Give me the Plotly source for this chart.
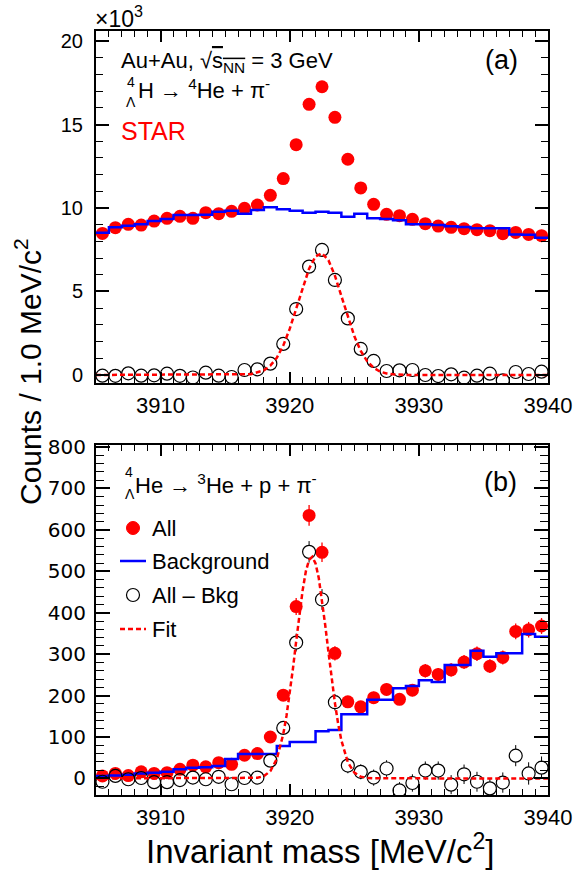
import plotly.graph_objects as go

# ---------------- data ----------------
bin_edges = [3905, 3906, 3907, 3908, 3909, 3910, 3911, 3912, 3913, 3914, 3915, 3916,
             3917, 3918, 3919, 3920, 3921, 3922, 3923, 3924, 3925, 3926, 3927, 3928,
             3929, 3930, 3931, 3932, 3933, 3934, 3935, 3936, 3937, 3938, 3939, 3940]
bin_centers = [3905.5, 3906.5, 3907.5, 3908.5, 3909.5, 3910.5, 3911.5, 3912.5, 3913.5,
               3914.5, 3915.5, 3916.5, 3917.5, 3918.5, 3919.5, 3920.5, 3921.5, 3922.5,
               3923.5, 3924.5, 3925.5, 3926.5, 3927.5, 3928.5, 3929.5, 3930.5, 3931.5,
               3932.5, 3933.5, 3934.5, 3935.5, 3936.5, 3937.5, 3938.5, 3939.5]

# panel (a): counts in units of 10^3
all_a = [8.48, 8.82, 9.02, 8.98, 9.22, 9.38, 9.50, 9.38, 9.72, 9.66, 9.80, 9.98, 10.18,
         10.76, 11.76, 13.79, 16.21, 17.26, 15.43, 12.92, 11.20, 10.22, 9.62, 9.54, 9.32,
         9.06, 8.92, 8.84, 8.76, 8.70, 8.64, 8.46, 8.54, 8.42, 8.34]
bkg_a = [8.52, 8.84, 8.94, 9.02, 9.22, 9.34, 9.58, 9.58, 9.60, 9.78, 9.84, 9.66, 9.88,
         10.04, 9.92, 9.84, 9.72, 9.78, 9.72, 9.48, 9.66, 9.38, 9.34, 9.26, 9.02, 9.02,
         8.98, 8.90, 8.86, 8.78, 8.78, 8.78, 8.42, 8.40, 8.22]
sub_a = [-0.04, -0.05, 0.10, -0.04, -0.02, 0.08, -0.05, -0.15, 0.14, -0.04, -0.12, 0.30,
         0.34, 0.68, 1.86, 3.95, 6.49, 7.49, 5.69, 3.39, 1.56, 0.84, 0.24, 0.28, 0.30,
         0.00, -0.06, 0.04, -0.16, -0.04, 0.08, -0.32, 0.18, 0.06, 0.20]
fit_a_x = [3905, 3917, 3918, 3918.5, 3919, 3919.5, 3920, 3920.5, 3921, 3921.5, 3922,
           3922.5, 3923, 3923.5, 3924, 3924.5, 3925, 3925.5, 3926, 3926.5, 3927, 3927.5,
           3928, 3929, 3940]
fit_a_y = [0.0, 0.05, 0.28, 0.56, 1.03, 1.76, 2.76, 3.97, 5.24, 6.37, 7.10, 7.29, 6.87,
           5.95, 4.73, 3.47, 2.33, 1.44, 0.82, 0.43, 0.20, 0.09, 0.04, 0.0, 0.0]

# panel (b): counts
all_b = [6, 12, 7, 16, 12, 14, 22, 32, 28, 38, 34, 56, 60, 100, 201, 415, 635, 546, 302,
         185, 173, 195, 215, 191, 213, 260, 251, 262, 281, 301, 271, 292, 355, 359, 368]
err_all_b = [2.4, 3.5, 2.6, 4.0, 3.5, 3.7, 4.7, 5.7, 5.3, 6.2, 5.8, 7.5, 7.7, 10.0, 14.2,
             20.4, 25.2, 23.4, 17.4, 13.6, 13.2, 14.0, 14.7, 13.8, 14.6, 16.1, 15.8, 16.2,
             16.8, 17.3, 16.5, 17.1, 18.8, 18.9, 19.2]
bkg_b = [6, 7, 9, 12, 14, 16, 22, 26, 27, 30, 47, 59, 59, 59, 78, 88, 88, 114, 117, 155,
         155, 190, 190, 218, 223, 237, 233, 274, 274, 308, 294, 302, 302, 349, 342]
sub_b = [-8, 6, -2, 1, -9, -9, -4, 2, -2, 4, -14, 1, 2, 43, 122, 328, 547, 432, 184, 31,
         16, 2, 24, -29, -11, 19, 19, -15, 10, -8, -24, -10, 55, 12, 26]
err_sub_b = [4.0, 4.5, 4.0, 5.0, 5.0, 5.5, 6.5, 7.5, 7.5, 8.5, 9.0, 10.5, 11.0, 12.5, 15.5,
             21.5, 26.0, 25.0, 20.0, 18.5, 18.0, 19.5, 20.0, 20.0, 21.0, 22.0, 22.0, 23.0,
             23.5, 24.0, 24.0, 24.5, 25.5, 27.0, 27.0]
fit_b_x = [3905, 3917, 3917.5, 3918, 3918.5, 3919, 3919.5, 3919.75, 3920, 3920.25, 3920.5,
           3920.75, 3921, 3921.25, 3921.5, 3921.75, 3922, 3922.25, 3922.5, 3922.75, 3923,
           3923.25, 3923.5, 3923.75, 3924, 3924.5, 3925, 3925.5, 3926, 3926.5, 3940]
fit_b_y = [0, 0.3, 1.5, 5.6, 17.6, 47, 107, 151, 204, 265, 331, 396, 454, 500, 528, 535,
           519, 484, 432, 370, 305, 240, 182, 132, 92, 39, 14, 4.3, 1.1, 0.2, 0]

x_ticks = [3910, 3920, 3930, 3940]
y_ticks_a = [0, 5, 10, 15, 20]
y_ticks_b = [0, 100, 200, 300, 400, 500, 600, 700, 800]

# ---------------- style ----------------
RED = "#ff0000"
BLUE = "#0000ff"
FONT = "Liberation Sans, Arial, sans-serif"
W, H = 582, 872
L, R, T, B = 96, 34, 31, 77
PW = W - L - R
PH = H - T - B
MSIZE = 13
Y_RANGE_B = [-40, 805]
BOT_H = 350


def px(x):
    return (x - L) / PW


def py(y):
    return (H - B - y) / PH


# open-marker error bars are drawn only outside the hollow circle (as ROOT does)
r_b = (MSIZE / 2) * (Y_RANGE_B[1] - Y_RANGE_B[0]) / BOT_H
seg_x, seg_y = [], []
for xc, yc, e in zip(bin_centers, sub_b, err_sub_b):
    if e > r_b:
        seg_x += [xc, xc, None, xc, xc, None]
        seg_y += [yc + r_b, yc + e, None, yc - r_b, yc - e, None]

fig = go.Figure()

# panel (a) traces
fig.add_trace(go.Scatter(x=bin_centers, y=all_a, mode="markers", xaxis="x2", yaxis="y2",
                         marker=dict(color=RED, size=MSIZE, symbol="circle"),
                         showlegend=False))
fig.add_trace(go.Scatter(x=bin_edges, y=bkg_a + [bkg_a[-1]], mode="lines", xaxis="x2",
                         yaxis="y2", line=dict(color=BLUE, width=2.5, shape="hv"),
                         showlegend=False))
fig.add_trace(go.Scatter(x=bin_centers, y=sub_a, mode="markers", xaxis="x2", yaxis="y2",
                         marker=dict(color="black", size=MSIZE, symbol="circle-open",
                                     line=dict(width=1.2)), showlegend=False))
fig.add_trace(go.Scatter(x=fit_a_x, y=fit_a_y, mode="lines", xaxis="x2", yaxis="y2",
                         line=dict(color=RED, width=2.5, dash="5px,3px"), showlegend=False))

# panel (b) traces
fig.add_trace(go.Scatter(x=bin_centers, y=all_b, mode="markers", xaxis="x", yaxis="y",
                         marker=dict(color=RED, size=MSIZE, symbol="circle"),
                         error_y=dict(type="data", array=err_all_b, color=RED,
                                      thickness=1.3, width=0), showlegend=False))
fig.add_trace(go.Scatter(x=bin_edges, y=bkg_b + [bkg_b[-1]], mode="lines", xaxis="x",
                         yaxis="y", line=dict(color=BLUE, width=2.5, shape="hv"),
                         showlegend=False))
fig.add_trace(go.Scatter(x=seg_x, y=seg_y, mode="lines", xaxis="x", yaxis="y",
                         line=dict(color="black", width=1), connectgaps=False,
                         showlegend=False, hoverinfo="skip"))
fig.add_trace(go.Scatter(x=bin_centers, y=sub_b, mode="markers", xaxis="x", yaxis="y",
                         marker=dict(color="black", size=MSIZE, symbol="circle-open",
                                     line=dict(width=1.2)), showlegend=False))
fig.add_trace(go.Scatter(x=fit_b_x, y=fit_b_y, mode="lines", xaxis="x", yaxis="y",
                         line=dict(color=RED, width=2.5, dash="5px,3px"), showlegend=False))

axis_common = dict(showline=True, linewidth=2, linecolor="black", mirror="ticks",
                   ticks="inside", tickcolor="black", showgrid=False, zeroline=False,
                   automargin=False)

bot_dom = [0, BOT_H / PH]
top_dom = [(H - B - 383) / PH, 1]

fig.update_layout(
    width=W, height=H, autosize=False,
    margin=dict(l=L, r=R, t=T, b=B, pad=0),
    paper_bgcolor="white", plot_bgcolor="white",
    font=dict(family=FONT, color="black"),
    xaxis=dict(domain=[0, 1], anchor="y", range=[3905, 3940], tickvals=x_ticks,
               ticktext=[str(v) for v in x_ticks], ticklen=11, tickwidth=1.5,
               tickfont=dict(size=22, family=FONT), ticklabelstandoff=2,
               minor=dict(dtick=1, ticklen=6, tickwidth=1.2, ticks="inside", tickcolor="black"),
               **axis_common),
    yaxis=dict(domain=bot_dom, anchor="x", range=Y_RANGE_B, tickvals=y_ticks_b,
               ticktext=[str(v) for v in y_ticks_b], ticklen=14, tickwidth=1.5,
               tickfont=dict(size=20, family="DejaVu Sans"), ticklabelstandoff=4,
               minor=dict(dtick=20, tick0=0, ticklen=8, tickwidth=1.2, ticks="inside",
                          tickcolor="black"),
               **axis_common),
    xaxis2=dict(domain=[0, 1], anchor="y2", range=[3905, 3940], tickvals=x_ticks,
                ticktext=[str(v) for v in x_ticks], ticklen=11, tickwidth=1.5,
                tickfont=dict(size=22, family=FONT), ticklabelstandoff=2,
                minor=dict(dtick=1, ticklen=6, tickwidth=1.2, ticks="inside", tickcolor="black"),
                **axis_common),
    yaxis2=dict(domain=top_dom, anchor="x2", range=[-0.48, 20.6], tickvals=y_ticks_a,
                ticktext=[str(v) for v in y_ticks_a], ticklen=13, tickwidth=1.5,
                tickfont=dict(size=20, family=FONT), ticklabelstandoff=7,
                minor=dict(dtick=1, tick0=0, ticklen=7, tickwidth=1.2, ticks="inside",
                           tickcolor="black"),
                **axis_common),
)


def ann(text, x, y, size, xanchor="left", yanchor="middle", color="black", angle=0,
        family=FONT):
    return dict(text=text, x=px(x), y=py(y), xref="paper", yref="paper",
                xanchor=xanchor, yanchor=yanchor, showarrow=False, textangle=angle,
                font=dict(size=size, color=color, family=family))


annotations = [
    ann("×10<sup>3</sup>", 93, 17, 23),
    ann("Au+Au, √<span style='text-decoration:overline'>s<sub>NN</sub></span> = 3 GeV",
        119, 62, 22),
    ann("4", 125, 82, 14),
    ann("Λ", 124, 102, 14),
    ann("H → <sup>4</sup>He + π<sup>-</sup>", 136, 89, 22),
    ann("STAR", 119, 131, 25, color=RED),
    ann("(a)", 501, 60, 27, xanchor="center"),
    ann("(b)", 500, 482, 27, xanchor="center"),
    ann("4", 123, 472, 14),
    ann("Λ", 123, 494, 14),
    ann("He → <sup>3</sup>He + p + π<sup>-</sup>", 133, 484, 22),
    ann("All", 150, 528, 22),
    ann("Background", 150, 561, 22),
    ann("All – Bkg", 150, 595, 22),
    ann("Fit", 150, 629, 22),
    ann("Counts / 1.0 MeV/c<sup>2</sup>", 28, 372, 30, xanchor="center", angle=-90),
    ann("Invariant mass [MeV/c<sup>2</sup>]", 320, 849, 33, xanchor="center"),
]
fig.update_layout(annotations=annotations)

shapes = [
    dict(type="circle", xref="paper", yref="paper", xsizemode="pixel", ysizemode="pixel",
         xanchor=px(133), yanchor=py(528), x0=-6.5, x1=6.5, y0=-6.5, y1=6.5,
         fillcolor=RED, line=dict(color=RED, width=1)),
    dict(type="line", xref="paper", yref="paper", x0=px(120), x1=px(146), y0=py(561),
         y1=py(561), line=dict(color=BLUE, width=2.5)),
    dict(type="circle", xref="paper", yref="paper", xsizemode="pixel", ysizemode="pixel",
         xanchor=px(133), yanchor=py(595), x0=-6.5, x1=6.5, y0=-6.5, y1=6.5,
         fillcolor="rgba(0,0,0,0)", line=dict(color="black", width=1.2)),
    dict(type="line", xref="paper", yref="paper", x0=px(120), x1=px(146), y0=py(629),
         y1=py(629), line=dict(color=RED, width=2.5, dash="5px,3px")),
]
fig.update_layout(shapes=shapes)

fig.write_html("out.html", config={"displayModeBar": False},
               post_script="document.body.style.margin='0px';")
